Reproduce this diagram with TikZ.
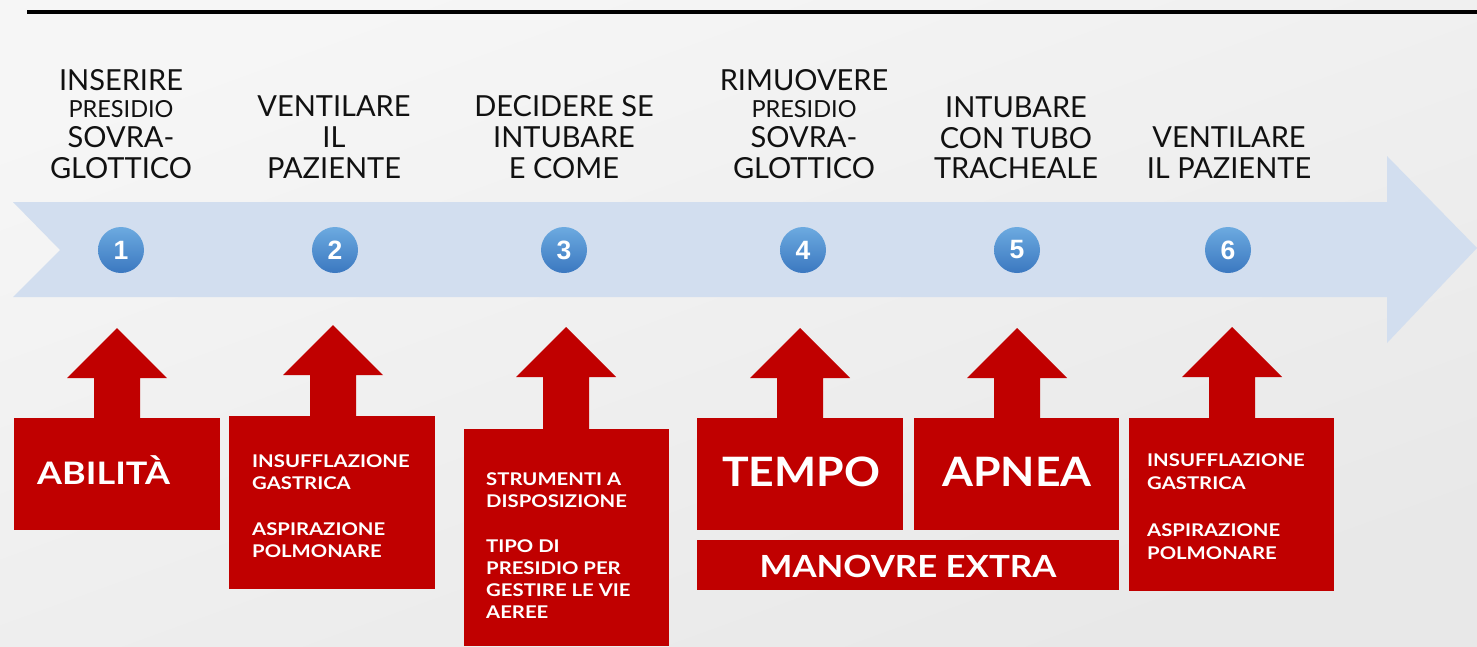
\documentclass[tikz,border=0pt]{standalone}
\usepackage{fontspec}
\setmainfont{Lato}
\newfontfamily\hfont{Lato}
\newfontfamily\bfont{Lato}[FakeStretch=1.16]
\newfontfamily\bfontb{Lato}[FakeStretch=1.10]
\newfontfamily\bfontm{Lato}[FakeStretch=1.14]
\newfontfamily\numfont{Liberation Sans}
\definecolor{redc}{HTML}{C00000}
\definecolor{bandc}{HTML}{D2DEEF}
\definecolor{bgtop}{HTML}{F6F6F6}
\definecolor{bgbot}{HTML}{E8E8E8}
\definecolor{ctop}{HTML}{6CAAE0}
\definecolor{cbot}{HTML}{3B78C0}
\definecolor{headc}{HTML}{111111}
\newcommand{\redup}[3]{%
  \fill[redc] ({#1-23},#3) -- ({#1-23},{#2+50}) -- ({#1-50},{#2+50}) -- (#1,#2)
    -- ({#1+50},{#2+50}) -- ({#1+23},{#2+50}) -- ({#1+23},#3) -- cycle;}
\tikzset{
  hd/.style={anchor=base, inner sep=0pt, text=headc, font=\hfont\fontsize{29}{31}\selectfont},
  hds/.style={hd, font=\hfont\fontsize{23.5}{26}\selectfont},
  rbox/.style={fill=redc, draw=none, inner sep=0pt, anchor=north west},
  bt/.style={anchor=base west, inner sep=0pt, text=white, font=\bfont\bfseries\fontsize{17.5}{20}\selectfont},
  big/.style={anchor=base, inner sep=0pt, text=white, font=\bfontb\bfseries\fontsize{40.5}{44}\selectfont},
  num/.style={circle, minimum size=46pt, inner sep=0pt, top color=ctop, bottom color=cbot,
    text=white, font=\numfont\bfseries\fontsize{26.5}{26.5}\selectfont},
}
\begin{document}
\begin{tikzpicture}[x=1pt,y=-1pt]
\useasboundingbox (0,0) rectangle (1477,646);
\shade[top color=bgtop, bottom color=bgbot, shading angle=20] (0,0) rectangle (1477,646);
% top rule
\coordinate (r0) at (27,12);
\coordinate (r1) at (1477,12);
\draw[line width=4pt, black] (r0) -- (r1);
% blue band arrow
\fill[bandc] (13,202) -- (1387,202) -- (1387,156) -- (1477,248) -- (1387,343)
  -- (1387,297) -- (13,297) -- (60,250) -- cycle;
% circles
\node[num] (n1) at (121,250) {1};
\node[num] (n2) at (335,250) {2};
\node[num] (n3) at (564,250) {3};
\node[num] (n4) at (803,250) {4};
\node[num] (n5) at (1017,250) {5};
\node[num] (n6) at (1228,250) {6};
% headings
\node[hd] (h1a) at (121,90) {INSERIRE};
\node[hds] (h1b) at (121,117) {PRESIDIO};
\node[hd] (h1c) at (121,147) {SOVRA-};
\node[hd] (h1d) at (121,178) {GLOTTICO};
\node[hd] (h2a) at (334,116) {VENTILARE};
\node[hd] (h2b) at (334,147) {IL};
\node[hd] (h2c) at (334,178) {PAZIENTE};
\node[hd] (h3a) at (564,116) {DECIDERE SE};
\node[hd] (h3b) at (564,147) {INTUBARE};
\node[hd] (h3c) at (564,178) {E COME};
\node[hd] (h4a) at (804,90) {RIMUOVERE};
\node[hds] (h4b) at (804,117) {PRESIDIO};
\node[hd] (h4c) at (804,147) {SOVRA-};
\node[hd] (h4d) at (804,178) {GLOTTICO};
\node[hd] (h5a) at (1016,117) {INTUBARE};
\node[hd] (h5b) at (1016,148) {CON TUBO};
\node[hd] (h5c) at (1016,178) {TRACHEALE};
\node[hd] (h6a) at (1229,147) {VENTILARE};
\node[hd] (h6b) at (1229,178) {IL PAZIENTE};
% red boxes
\node[rbox, minimum width=206pt, minimum height=112pt] (b1) at (14,418) {};
\node[rbox, minimum width=206pt, minimum height=173pt] (b2) at (229,416) {};
\node[rbox, minimum width=205pt, minimum height=217pt] (b3) at (464,429) {};
\node[rbox, minimum width=206pt, minimum height=112pt] (b4) at (697,418) {};
\node[rbox, minimum width=205pt, minimum height=112pt] (b5) at (914,418) {};
\node[rbox, minimum width=422pt, minimum height=50pt] (bm) at (697,540) {};
\node[rbox, minimum width=205pt, minimum height=173pt] (b6) at (1129,418) {};
% red up arrows
\redup{117}{328}{419}
\redup{333}{325}{417}
\redup{566}{327}{430}
\redup{800}{328}{419}
\redup{1017}{328}{419}
\redup{1232}{327}{419}
% box texts
\node[bt, font=\bfont\bfseries\fontsize{31}{34}\selectfont] (t1) at (37,484) {ABILITÀ};
\node[bt] (t2a) at (252,467) {INSUFFLAZIONE};
\node[bt] (t2b) at (252,489) {GASTRICA};
\node[bt] (t2c) at (252,535) {ASPIRAZIONE};
\node[bt] (t2d) at (252,557) {POLMONARE};
\node[bt] (t3a) at (486,485) {STRUMENTI A};
\node[bt] (t3b) at (486,507) {DISPOSIZIONE};
\node[bt] (t3c) at (486,552) {TIPO DI};
\node[bt] (t3d) at (486,574) {PRESIDIO PER};
\node[bt] (t3e) at (486,596) {GESTIRE LE VIE};
\node[bt] (t3f) at (486,618) {AEREE};
\node[big] (t4) at (801,486) {TEMPO};
\node[big] (t5) at (1017,486) {APNEA};
\node[big, font=\bfontm\bfseries\fontsize{30.5}{34}\selectfont] (tm) at (908,577) {MANOVRE EXTRA};
\node[bt] (t6a) at (1147,466) {INSUFFLAZIONE};
\node[bt] (t6b) at (1147,489) {GASTRICA};
\node[bt] (t6c) at (1147,536) {ASPIRAZIONE};
\node[bt] (t6d) at (1147,559) {POLMONARE};
\end{tikzpicture}
\end{document}
